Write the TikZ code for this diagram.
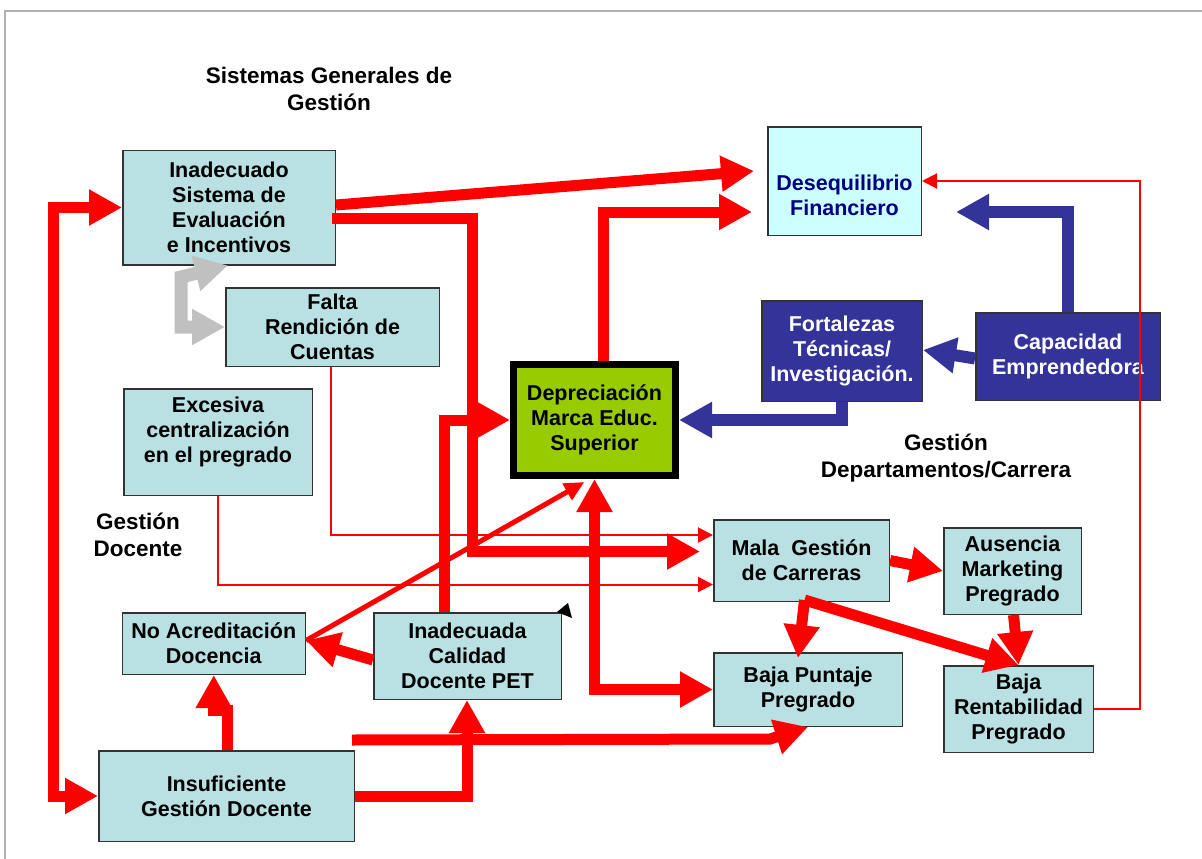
\documentclass[tikz,border=0pt]{standalone}
\usepackage{fontspec}
\setmainfont{Liberation Sans}
\usetikzlibrary{arrows.meta,calc}

\definecolor{boxfill}{RGB}{185,224,226}
\definecolor{finfill}{RGB}{204,255,255}
\definecolor{brandgreen}{RGB}{153,204,0}
\definecolor{deepblue}{RGB}{51,51,153}
\definecolor{navytext}{RGB}{0,0,128}
\definecolor{framegray}{RGB}{175,175,175}
\definecolor{arrowgray}{RGB}{192,192,192}

\begin{document}
\begin{tikzpicture}[x=1pt,y=-1pt,
  box/.style={draw=black!80, line width=1.5pt, fill=boxfill, align=center, inner sep=0pt,
              font=\fontsize{21.5pt}{25pt}\selectfont\bfseries},
  darkbox/.style={box, fill=deepblue, text=white},
  heading/.style={align=center, inner sep=0pt, font=\fontsize{22.5pt}{27pt}\selectfont\bfseries},
  heavy/.style={draw=red, line width=11pt},
  heavyblue/.style={draw=deepblue, line width=12pt},
  heavygray/.style={draw=arrowgray, line width=13pt},
  fine/.style={draw=red, line width=2pt},
  medium/.style={draw=red, line width=5pt},
  bigtip/.style={arrows={-Triangle[length=33pt,width=34pt]}},
  bigtips/.style={arrows={Triangle[length=33pt,width=34pt]-Triangle[length=33pt,width=34pt]}},
  smalltip/.style={arrows={-Triangle[length=15pt,width=15pt]}},
  midtip/.style={arrows={-Triangle[length=20pt,width=18pt]}},
]
\useasboundingbox (0,0) rectangle (1202,859);
\fill[white] (0,0) rectangle (1202,859);

% page frame
\draw[framegray, line width=1.5pt] (5,859) -- (5,11) -- (1202,11);

% group headings
\node[heading] (tsis) at (329,88.5) {Sistemas Generales de\\Gestión};
\node[heading] (tdoc) at (138,534.5) {Gestión\\Docente};
\node[heading] (tdep) at (946,458.5) {Gestión\\Departamentos/Carrera};

% boxes
\node[box, minimum width=212.5pt, minimum height=114.5pt] (ise) at (229,207.5)
  {Inadecuado\\Sistema de\\Evaluación\\e Incentivos};
\node[box, minimum width=213.5pt, minimum height=78.5pt] (falta) at (332.5,327)
  {Falta\\Rendición de\\Cuentas};
\node[box, minimum width=188.5pt, minimum height=106.5pt] (exc) at (218,442)
  {Excesiva\\centralización\\en el pregrado\\~};
\node[box, minimum width=183pt, minimum height=61.5pt] (noacr) at (213.75,643.5)
  {No Acreditación\\Docencia};
\node[box, minimum width=187.5pt, minimum height=86.5pt] (calidad) at (467.5,656)
  {Inadecuada\\Calidad\\Docente PET};
\node[box, minimum width=255.5pt, minimum height=90.5pt] (insuf) at (226.5,796)
  {Insuficiente\\Gestión Docente};
\node[box, draw=black, line width=7pt, fill=brandgreen, minimum width=162pt, minimum height=111pt]
  (deprec) at (594.5,420) {Depreciación\\Marca Educ.\\Superior};
\node[box, fill=finfill, text=navytext, minimum width=153.5pt, minimum height=108.5pt]
  (deseq) at (844.5,181) {\rule{0pt}{20pt}\\Desequilibrio\\Financiero};
\node[darkbox, minimum width=160.5pt, minimum height=100.5pt] (fort) at (842,351)
  {Fortalezas\\Técnicas/\\Investigación.};
\node[darkbox, minimum width=184.5pt, minimum height=87.5pt] (capac) at (1068,356.5)
  {Capacidad\\Emprendedora};
\node[box, minimum width=175.5pt, minimum height=81.5pt] (mala) at (801.5,560.5)
  {Mala\ \ Gestión\\de Carreras};
\node[box, minimum width=137.5pt, minimum height=86.5pt] (ausen) at (1012.5,571)
  {Ausencia\\Marketing\\Pregrado};
\node[box, minimum width=188.5pt, minimum height=73.5pt] (puntaje) at (808,689.5)
  {Baja Puntaje\\Pregrado};
\node[box, minimum width=149.5pt, minimum height=86.5pt] (rent) at (1018.5,709)
  {Baja\\Rentabilidad\\Pregrado};

% evaluation system <-> accountability
\draw[heavygray, bigtips] (falta.west) -- ++(-44,0) -- ++(0,-50) -- ($(ise.south)+(-1,0)$);

% feedback loop on the left
\draw[heavy, bigtips] (ise.west) -- ++(-69,0) |- (insuf.west);

% evaluation system effects
\draw[heavy, bigtip] ($(ise.east)+(0,-2.5)$) -- ($(deseq.west)+(-13,-10)$);
\draw[heavy, bigtip] ($(ise.east)+(-4,11)$) -- ++(140,0) |- ($(mala.west)+(-13,-9)$);

% brand depreciation links
\draw[heavy, bigtip] ($(calidad.north)+(-23.5,0)$) |- (deprec.west);
\draw[heavy, bigtip] ($(deprec.north)+(8.5,0)$) |- ($(deseq.west)+(-15,31)$);
\draw[heavy, bigtips] (deprec.south) |- (puntaje.west);
\draw[medium, midtip] ($(noacr.east)+(0,-3)$) -- ($(deprec.south)+(-10,3)$);

% teaching management
\draw[heavy, bigtip] ($(calidad.west)+(0,4)$) -- ($(noacr.east)+(0,-3)$);
\draw[heavy, bigtip] ($(insuf.north)+(0.5,0)$) -- ++(0,-40) -| (noacr.south);
\draw[heavy, bigtip] (insuf.east) -| ($(calidad.south)+(-0.5,0)$);
\coordinate (gdfree) at ($(insuf.north east)+(-3,-10)$);
\draw[heavy, bigtip] (gdfree) -- ($(puntaje.south)+(-38,12)$) -- (puntaje.south);

% department / programme management
\draw[heavy, bigtip] (mala.east) -- (ausen.west);
\draw[heavy, bigtip] ($(mala.south)+(3,-2)$) -- ($(puntaje.north)+(-10,6)$);
\draw[heavy, bigtip] ($(mala.south)+(3,-2)$) -- (rent.north);
\draw[heavy, bigtip] ($(ausen.south)+(1,0)$) -- (rent.north);

% thin links
\draw[fine, smalltip] ($(falta.south)+(-1.5,0)$) |- ($(mala.west)+(0,-25.5)$);
\draw[fine, smalltip] (exc.south) |- ($(mala.west)+(0,24)$);
\draw[fine, smalltip] (rent.east) -- ++(46,0) |- (deseq.east);

% entrepreneurial capacity and technical strengths
\draw[heavyblue, bigtip] (capac.north) |- ($(deseq.east)+(34,31)$);
\draw[heavyblue, bigtip] ($(capac.west)+(0,2)$) -- ($(fort.east)+(0,-1)$);
\draw[heavyblue, bigtip] (fort.south) |- (deprec.east);

% small corner mark
\fill[black] (557,612) -- (568,603) -- (572,618) -- cycle;

\end{tikzpicture}
\end{document}
